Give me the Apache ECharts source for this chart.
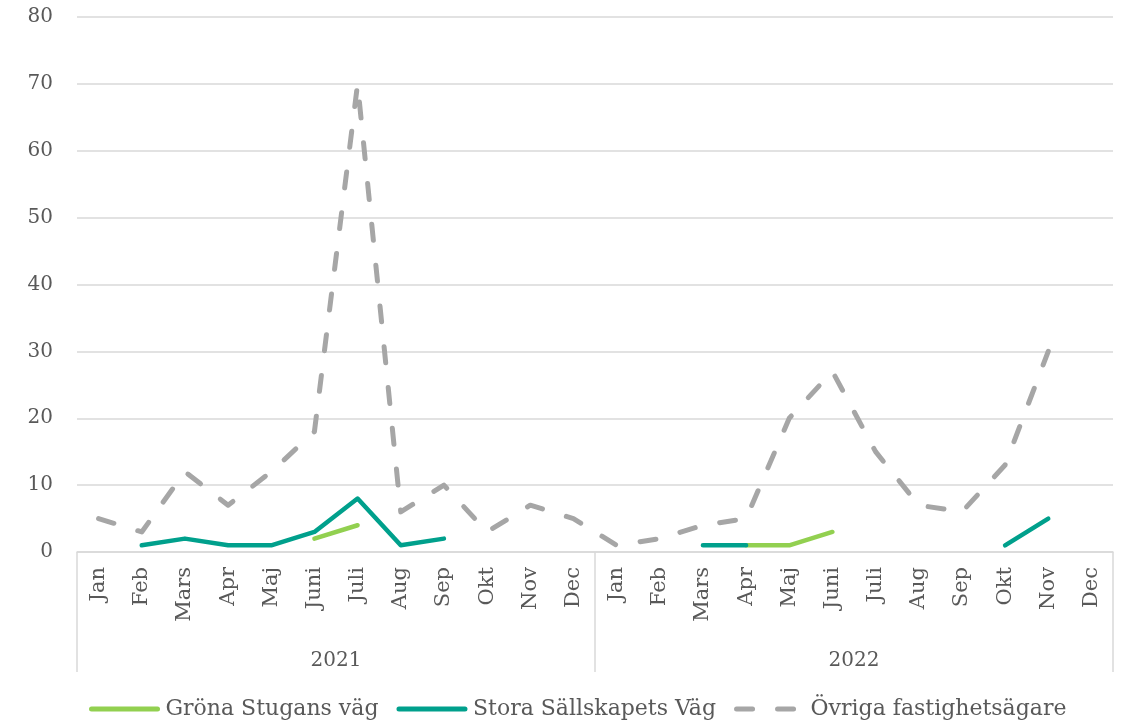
<!DOCTYPE html>
<html>
<head>
<meta charset="utf-8">
<script src="https://cdn.jsdelivr.net/npm/echarts@6/dist/echarts.min.js"></script>
<style>
  html, body { margin: 0; padding: 0; background: #ffffff; }
  #chart { width: 1125px; height: 725px; }
</style>
</head>
<body>
<div id="chart"></div>
<script>
// Month and year labels for the two-level category axis
const months = ['Jan', 'Feb', 'Mars', 'Apr', 'Maj', 'Juni', 'Juli', 'Aug', 'Sep', 'Okt', 'Nov', 'Dec'];
const years = ['2021', '2022'];

// Counts per month, Jan 2021 .. Dec 2022 (null = no value)
const gronaStugansVag = [
  null, null, null, null, null, 2, 4, null, null, null, null, null,
  null, null, null, 1, 1, 3, null, null, null, null, null, null
];
const storaSallskapetsVag = [
  null, 1, 2, 1, 1, 3, 8, 1, 2, null, null, null,
  null, null, 1, 1, null, null, null, null, null, 1, 5, null
];
const ovrigaFastighetsagare = [
  5, 3, 12, 7, 12, 18, 70, 6, 10, 3, 7, 5,
  1, 2, 4, 5, 20, 27, 15, 7, 6, 13, 30, null
];

const yTicks = { min: 0, max: 80, interval: 10 };

const categories = [];
years.forEach(y => months.forEach(m => categories.push(m + ' ' + y)));

const fontFamily = '"DejaVu Serif", "Liberation Serif", serif';
const textColor = '#595959';
const lineGray = '#d9d9d9';

const chart = echarts.init(document.getElementById('chart'));
chart.setOption({
  animation: false,
  backgroundColor: '#ffffff',
  grid: { left: 77, right: 12, top: 17, bottom: 173 },
  legend: {
    left: 84,
    bottom: 0,
    itemWidth: 66,
    itemHeight: 10,
    itemGap: 18,
    textStyle: { fontFamily: fontFamily, fontSize: 22, color: textColor, padding: [0, 0, 0, 3] },
    lineStyle: { width: 5, cap: 'round' },
    itemStyle: { opacity: 0 },
    data: ['Gröna Stugans väg', 'Stora Sällskapets Väg', 'Övriga fastighetsägare']
  },
  xAxis: [
    {
      type: 'category',
      data: categories,
      boundaryGap: true,
      axisLine: { show: true, lineStyle: { color: lineGray, width: 1.5 } },
      axisTick: { show: false },
      axisLabel: {
        rotate: 90,
        margin: 15,
        interval: 0,
        color: textColor,
        fontFamily: fontFamily,
        fontSize: 21,
        formatter: v => v.split(' ')[0]
      },
      splitLine: { show: false }
    },
    {
      type: 'category',
      data: years,
      position: 'bottom',
      boundaryGap: true,
      axisLine: { show: false },
      axisTick: { show: true, length: 120, lineStyle: { color: lineGray, width: 1.5 } },
      axisLabel: {
        margin: 99,
        color: textColor,
        fontFamily: fontFamily,
        fontSize: 20
      },
      splitLine: { show: false }
    }
  ],
  yAxis: {
    type: 'value',
    min: yTicks.min,
    max: yTicks.max,
    interval: yTicks.interval,
    axisLine: { show: false },
    axisTick: { show: false },
    axisLabel: { margin: 24, color: textColor, fontFamily: fontFamily, fontSize: 20 },
    splitLine: { lineStyle: { color: lineGray, width: 1.5 } }
  },
  series: [
    {
      name: 'Gröna Stugans väg',
      type: 'line',
      data: gronaStugansVag,
      symbol: 'none',
      z: 3,
      lineStyle: { color: '#92d050', width: 4.5, cap: 'round', join: 'round' },
      itemStyle: { color: '#92d050' }
    },
    {
      name: 'Stora Sällskapets Väg',
      type: 'line',
      data: storaSallskapetsVag,
      symbol: 'none',
      z: 4,
      lineStyle: { color: '#00a08c', width: 4.5, cap: 'round', join: 'round' },
      itemStyle: { color: '#00a08c' }
    },
    {
      name: 'Övriga fastighetsägare',
      type: 'line',
      data: ovrigaFastighetsagare,
      symbol: 'none',
      z: 2,
      lineStyle: { color: '#a6a6a6', width: 5, type: [16, 25], cap: 'round', join: 'round' },
      itemStyle: { color: '#a6a6a6' }
    }
  ]
});
</script>
</body>
</html>
